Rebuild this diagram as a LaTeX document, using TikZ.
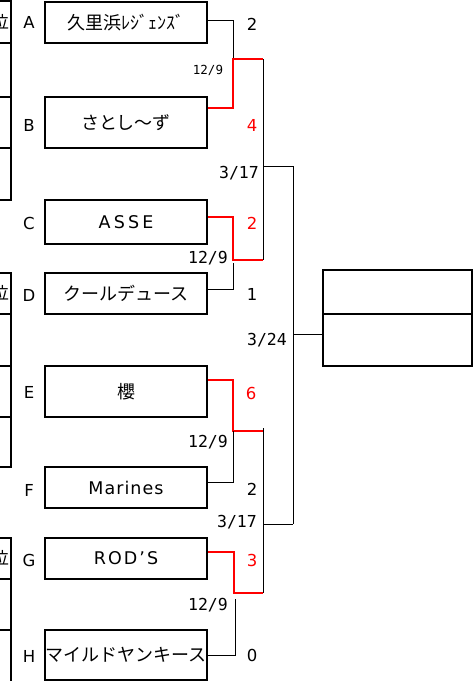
\documentclass[tikz,border=0pt]{standalone}
\usepackage{fontspec}
\setmainfont{Noto Sans CJK JP}
\newfontfamily\latinsans{DejaVu Sans}
\newfontfamily\latinmono{DejaVu Sans Mono}
\begin{document}
\begin{tikzpicture}[x=1pt,y=-1pt,
  team/.style={draw,line width=2pt,minimum width=162pt,inner sep=0pt,font=\fontsize{18}{18}\selectfont},
  latinname/.style={font=\fontsize{17.5}{18}\latinsans},
  lbl/.style={inner sep=0pt,font=\fontsize{16.5}{17}\latinsans},
  rank/.style={inner sep=0pt,font=\fontsize{17}{17}\selectfont},
  datelbl/.style={inner sep=0pt,font=\fontsize{16.5}{17}\latinmono},
  smalldate/.style={inner sep=0pt,font=\fontsize{12.5}{13}\latinmono},
  redsc/.style={lbl,red},
  win/.style={red,line width=1.2pt},
  lose/.style={black,line width=1pt},
  tbl/.style={line width=2pt},
  finalbox/.style={draw,line width=2pt,minimum width=149pt,inner sep=0pt}]
\useasboundingbox (0,0) rectangle (473,681);
\clip (0,0) rectangle (473,681);

% left cut-off table
\draw[tbl] (-2,1) -- (11,1) -- (11,200) -- (-2,200);
\draw[tbl] (-2,43) -- (11,43);
\draw[tbl] (-2,97) -- (11,97);
\draw[tbl] (-2,148) -- (11,148);
\draw[tbl] (-2,273) -- (11,273) -- (11,467) -- (-2,467);
\draw[tbl] (-2,314) -- (11,314);
\draw[tbl] (-2,366) -- (11,366);
\draw[tbl] (-2,417) -- (11,417);
\draw[tbl] (-2,538) -- (11,538) -- (11,683);
\draw[tbl] (-2,579) -- (11,579);
\draw[tbl] (-2,630) -- (11,630);
\node[rank,anchor=east] (rk1) at (9,22) {位};
\node[rank,anchor=east] (rk2) at (9,293) {位};
\node[rank,anchor=east] (rk3) at (9,558) {位};

% letters
\node[lbl] (la) at (29,22) {A};
\node[lbl] (lb) at (29,125) {B};
\node[lbl] (lc) at (29,223) {C};
\node[lbl] (ld) at (29,295) {D};
\node[lbl] (le) at (29,392) {E};
\node[lbl] (lf) at (29,490) {F};
\node[lbl] (lg) at (29,560) {G};
\node[lbl] (lh) at (29,656) {H};

% team boxes
\node[team,minimum height=41pt] (A) at (126,22.5) {久里浜ﾚｼﾞｪﾝｽﾞ};
\node[team,minimum height=51pt] (B) at (126,122.5) {さとし～ず};
\node[team,minimum height=44pt,latinname] (C) at (126,222) {\addfontfeature{LetterSpace=18}ASSE};
\node[team,minimum height=41pt] (D) at (126,293.5) {クールデュース};
\node[team,minimum height=51pt] (E) at (126,391.5) {櫻};
\node[team,minimum height=41pt,latinname] (F) at (126,487.5) {\addfontfeature{LetterSpace=6}Marines};
\node[team,minimum height=41pt,latinname] (G) at (126,558.5) {\addfontfeature{LetterSpace=12}ROD’S};
\node[team,minimum height=50pt] (H) at (126,655) {\makebox[0pt]{マイルドヤンキース}};

% final box
\node[finalbox,minimum height=44pt] (R1) at (397.5,292) {};
\node[finalbox,minimum height=52pt] (R2) at (397.5,340) {};

% junction coordinates
\coordinate (ab) at (263,59);
\coordinate (cd) at (263,260);
\coordinate (ef) at (263,431);
\coordinate (gh) at (263,593);
\coordinate (s1) at (293,166);
\coordinate (s2) at (293,524);

% first round
\draw[lose] ([yshift=2.5pt]A.east) -| (233,58);
\draw[win] ([yshift=14.5pt]B.east) -| (233,59) -- (ab);
\draw[win] ([yshift=5pt]C.east) -| (233,260) -- (cd);
\draw[lose] ([yshift=4.5pt]D.east) -| (233,263);
\draw[win] ([yshift=11.5pt]E.east) -| (233,431) -- (ef);
\draw[lose] ([yshift=5.5pt]F.east) -| (233,431);
\draw[win] ([yshift=6.5pt]G.east) -| (234,593) -- (gh);
\draw[lose] (H.east) -| (235,599);

% semifinals and final
\draw[lose] (ab) -- (cd);
\draw[lose] (263,166) -- (s1);
\draw[lose] (263,428) -- (gh);
\draw[lose] (263,524) -- (s2);
\draw[lose] (s1) -- (s2);
\draw[lose] (293,334) -- ([yshift=6pt]R2.west);

% scores and dates
\node[lbl] (sa) at (252,24) {2};
\node[smalldate] (d1) at (208,70) {12/9};
\node[redsc] (sb) at (252,125) {4};
\node[datelbl] (d5) at (239,173) {3/17};
\node[redsc] (sc) at (252,223) {2};
\node[datelbl] (d2) at (208,258) {12/9};
\node[lbl] (sd) at (252,294) {1};
\node[datelbl] (d7) at (267,340) {3/24};
\node[redsc] (se) at (251,393) {6};
\node[datelbl] (d3) at (208,442) {12/9};
\node[lbl] (sf) at (252,489) {2};
\node[datelbl] (d6) at (237,522) {3/17};
\node[redsc] (sg) at (252,560) {3};
\node[datelbl] (d4) at (208,605) {12/9};
\node[lbl] (sh) at (252,655) {0};
\end{tikzpicture}
\end{document}
